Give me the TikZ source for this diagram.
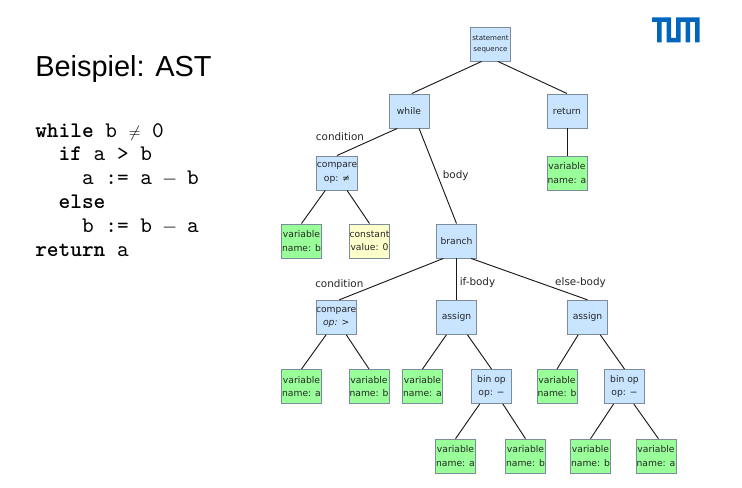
\documentclass[tikz,border=0pt]{standalone}
\usepackage{fontspec}
\usepackage{graphicx}
\setmainfont{DejaVu Sans}
\setsansfont{Liberation Sans}
\setmonofont{lmmono10-regular.otf}[BoldFont=lmmonolt10-bold.otf]
\usetikzlibrary{calc}
\definecolor{opblue}{HTML}{C8E4FF}
\definecolor{varwgreen}{HTML}{99FF99}
\definecolor{constyellow}{HTML}{FFFFCC}
\definecolor{boxgray}{HTML}{7D8C99}
\definecolor{tumblue}{HTML}{0065BD}
\newcommand{\chneq}{\makebox[0.525em][c]{\scalebox{0.7}{$\neq$}}}
\newcommand{\chminus}{\makebox[0.525em][c]{\scalebox{0.85}{$-$}}}
\tikzset{
	astbox/.style={draw=boxgray, line width=0.7pt, minimum width=30pt, minimum height=25.5pt, inner sep=0pt, align=center, font=\fontsize{6.9}{10}\selectfont, text=black!85},
	opbox/.style={astbox, fill=opblue},
	varbox/.style={astbox, fill=varwgreen},
	constbox/.style={astbox, fill=constyellow},
	edgelabel/.style={inner sep=0pt, font=\fontsize{7.8}{9}\selectfont, text=black!85},
	edge/.style={draw=black!90, line width=0.7pt}
}
\begin{document}
\begin{tikzpicture}[x=0.75pt, y=-0.75pt]
	\useasboundingbox (0, 0) rectangle (742, 488);

	\node[anchor=base west, inner sep=0pt, font=\sffamily\fontsize{21.7}{26}\selectfont] (title) at (35, 77) {Beispiel: AST};
	\node[anchor=north west, inner sep=0pt, align=left, font=\ttfamily\fontsize{16.7}{17.85}\selectfont] (code) at (35, 123) {\textbf{while} b \chneq{} 0\\~~\textbf{if} a > b\\~~~~a := a \chminus{} b\\~~\textbf{else}\\~~~~b := b \chminus{} a\\\textbf{return} a};

	\fill[tumblue] (652, 17.5) -- (671, 17.5) -- (671, 38) -- (676, 38) -- (676, 17.5) -- (699.5, 17.5) -- (699.5, 42.5) -- (695, 42.5) -- (695, 22) -- (690, 22) -- (690, 42.5) -- (685.5, 42.5) -- (685.5, 22) -- (680.5, 22) -- (680.5, 42.5) -- (666.5, 42.5) -- (666.5, 22) -- (661.5, 22) -- (661.5, 42.5) -- (657, 42.5) -- (657, 22) -- (652, 22) -- cycle;

	\node[opbox, font=\fontsize{5.3}{8}\selectfont] (stmt) at (490.5, 44) {statement\\sequence};
	\node[opbox] (while) at (409, 111) {while};
	\node[opbox] (return) at (567, 111) {return};
	\node[opbox] (cmpa) at (337, 173) {compare\\op: ≠};
	\node[varbox] (reta) at (567, 173) {variable\\name: a};
	\node[varbox] (cmpab) at (301.5, 241) {variable\\name: b};
	\node[constbox] (cmpaz) at (369.5, 241) {constant\\value: 0};
	\node[opbox] (branch) at (456.5, 241) {branch};
	\node[opbox] (cmpb) at (336.2, 317.3) {compare\\\textit{op:} >};
	\node[opbox] (asgna) at (456.5, 317.3) {assign};
	\node[opbox] (asgnb) at (587.5, 317.3) {assign};
	\node[varbox] (cmpba) at (301.5, 386.5) {variable\\name: a};
	\node[varbox] (cmpbb) at (369, 386.5) {variable\\name: b};
	\node[varbox] (asgnav) at (422.5, 386.5) {variable\\name: a};
	\node[opbox] (binopa) at (491.5, 386.5) {bin op\\op: −};
	\node[varbox] (asgnbv) at (557, 386.5) {variable\\name: b};
	\node[opbox] (binopb) at (624.5, 386.5) {bin op\\op: −};
	\node[varbox] (binopaa) at (455.5, 456.2) {variable\\name: a};
	\node[varbox] (binopab) at (525.5, 456.2) {variable\\name: b};
	\node[varbox] (binopbb) at (590.5, 456.2) {variable\\name: b};
	\node[varbox] (binopba) at (656, 456.2) {variable\\name: a};

	\draw[edge] (stmt.-117) -- (while.81);
	\draw[edge] (stmt.-67) -- (return.north);
	\draw[edge] (while.-124) -- (cmpa.north);
	\draw[edge] (while.-60) -- (branch.north);
	\draw[edge] (return.south) -- (reta.north);
	\draw[edge] (cmpa.-124) -- (cmpab.north);
	\draw[edge] (cmpa.-60) -- (cmpaz.north);
	\draw[edge] (branch.-127) -- (cmpb.80);
	\draw[edge] (branch.south) -- (asgna.north);
	\draw[edge] (branch.-50) -- (asgnb.north);
	\draw[edge] (cmpb.-120) -- (cmpba.north);
	\draw[edge] (cmpb.-60) -- (cmpbb.north);
	\draw[edge] (asgna.-120) -- (asgnav.north);
	\draw[edge] (asgna.-58) -- (binopa.north);
	\draw[edge] (asgnb.-118) -- (asgnbv.north);
	\draw[edge] (asgnb.-54) -- (binopb.north);
	\draw[edge] (binopa.-124) -- (binopaa.north);
	\draw[edge] (binopa.-57) -- (binopab.north);
	\draw[edge] (binopb.-122) -- (binopbb.north);
	\draw[edge] (binopb.-62) -- (binopba.82);

	\node[edgelabel] (lcond) at (340, 136.3) {condition};
	\node[edgelabel] (lbody) at (455.7, 176) {body};
	\node[edgelabel] (lcondb) at (339.3, 283.3) {condition};
	\node[edgelabel] (lif) at (477.5, 282.3) {if-body};
	\node[edgelabel] (lelse) at (580.5, 282.3) {else-body};
\end{tikzpicture}
\end{document}
